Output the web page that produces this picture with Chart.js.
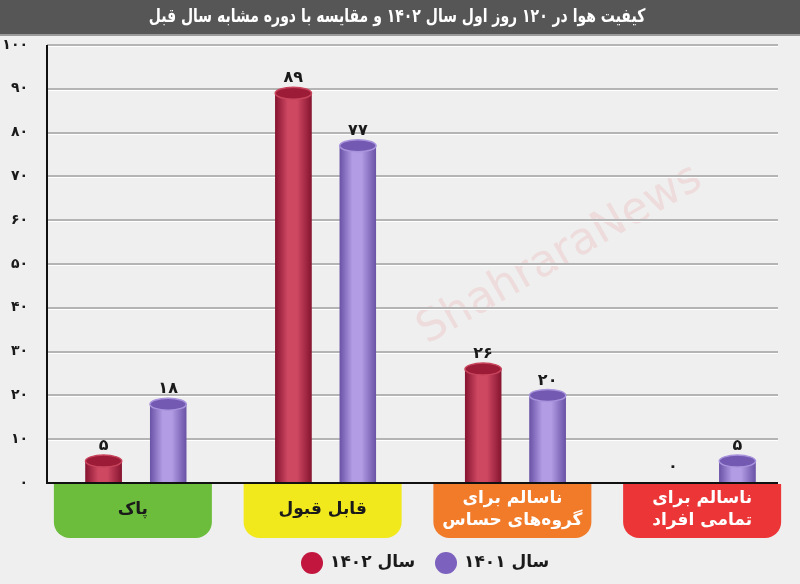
<!DOCTYPE html>
<html>
<head>
<meta charset="utf-8">
<script src="https://cdn.jsdelivr.net/npm/chart.js@4.4.0/dist/chart.umd.min.js"></script>
<style>
html,body{margin:0;padding:0;background:#efefef;}
#wrap{width:800px;height:584px;position:relative;}
</style>
</head>
<body>
<div id="wrap"><canvas id="c" width="800" height="584"></canvas></div>
<script>
const titleText = 'کیفیت هوا در ۱۲۰ روز اول سال ۱۴۰۲ و مقایسه با دوره مشابه سال قبل';
const categories = ['پاک', 'قابل قبول', 'ناسالم برای\nگروه‌های حساس', 'ناسالم برای\nتمامی افراد'];
const categoryColors = ['#6cbd3c', '#f1e91c', '#f17b29', '#ec3537'];
const categoryTextColors = ['#1a1a1a', '#1a1a1a', '#ffffff', '#ffffff'];
const seriesNames = ['سال ۱۴۰۲', 'سال ۱۴۰۱'];
const values1402 = [5, 89, 26, 0];
const values1401 = [18, 77, 20, 5];
const yTicks = [0, 10, 20, 30, 40, 50, 60, 70, 80, 90, 100];

const FONT = '"DejaVu Sans", sans-serif';
const fa = v => String(v).replace(/\d/g, d => '۰۱۲۳۴۵۶۷۸۹'[d]);
const GRID_END = 778;
const AXIS_X = 47;

const palette = [
  {edge:'#861430', mid:'#cf4862', cap:'#9c1c37', rim:'#c8445c', legend:'#c3163f'},
  {edge:'#6a52a6', mid:'#b29ce4', cap:'#7359b2', rim:'#a893dc', legend:'#7c62be'}
];

const decor = {
  id: 'decor',
  beforeDraw(chart) {
    const ctx = chart.ctx;
    ctx.save();
    ctx.fillStyle = '#efefef';
    ctx.fillRect(0, 0, chart.width, chart.height);
    ctx.fillStyle = '#565656';
    ctx.fillRect(0, 0, chart.width, 34);
    ctx.fillStyle = '#9a9a9a';
    ctx.fillRect(0, 34, chart.width, 2);
    ctx.save();
    ctx.fillStyle = '#ffffff';
    ctx.font = 'bold 14px ' + FONT;
    ctx.textAlign = 'center';
    ctx.textBaseline = 'middle';
    ctx.direction = 'rtl';
    ctx.translate(397, 17);
    ctx.scale(1, 1.35);
    ctx.fillText(titleText, 0, 0);
    ctx.restore();
    // watermark
    ctx.translate(560, 255);
    ctx.rotate(-0.52);
    ctx.fillStyle = 'rgba(235,150,150,0.22)';
    ctx.font = '44px ' + FONT;
    ctx.textAlign = 'center';
    ctx.textBaseline = 'middle';
    ctx.fillText('ShahraraNews', 0, 0);
    ctx.restore();
  },
  beforeDatasetsDraw(chart) {
    const ctx = chart.ctx;
    const ys = chart.scales.y;
    ctx.save();
    ys.ticks.forEach(t => {
      if (t.value === 0) return;
      const y = Math.round(ys.getPixelForValue(t.value));
      ctx.fillStyle = '#b4b4b4';
      ctx.fillRect(AXIS_X, y - 1, GRID_END - AXIS_X, 2);
      ctx.fillStyle = '#ffffff';
      ctx.fillRect(AXIS_X, y + 1, GRID_END - AXIS_X, 1);
    });
    ctx.restore();
  },
  afterDatasetsDraw(chart) {
    const ctx = chart.ctx;
    const area = chart.chartArea;
    chart.data.datasets.forEach((ds, di) => {
      const meta = chart.getDatasetMeta(di);
      const p = palette[di];
      meta.data.forEach((bar, i) => {
        const v = ds.data[i];
        const w = bar.width;
        const x0 = bar.x - w / 2, x1 = bar.x + w / 2;
        const top = bar.y, base = bar.base;
        const ry = 6;
        ctx.save();
        if (v > 0) {
          const g = ctx.createLinearGradient(x0, 0, x1, 0);
          g.addColorStop(0, p.edge);
          g.addColorStop(0.35, p.mid);
          g.addColorStop(0.6, p.mid);
          g.addColorStop(1, p.edge);
          ctx.beginPath();
          ctx.rect(x0, top, w, base - top);
          ctx.fillStyle = g;
          ctx.fill();
          ctx.beginPath();
          ctx.ellipse(bar.x, top, w / 2, ry, 0, 0, Math.PI * 2);
          ctx.fillStyle = p.cap;
          ctx.fill();
          ctx.lineWidth = 1.5;
          ctx.strokeStyle = p.rim;
          ctx.stroke();
        }
        ctx.fillStyle = '#1a1a1a';
        ctx.font = 'bold 16px ' + FONT;
        ctx.textAlign = 'center';
        ctx.textBaseline = 'bottom';
        const ly = v > 0 ? top - ry - 1 : top - 8;
        ctx.fillText(fa(v), bar.x, ly);
        ctx.restore();
      });
    });
    // axes lines
    ctx.save();
    ctx.fillStyle = '#111';
    ctx.fillRect(AXIS_X - 1, area.top, 2, area.bottom - area.top + 1);
    ctx.fillRect(AXIS_X - 1, area.bottom - 1, GRID_END - AXIS_X + 1, 2);
    ctx.restore();
  },
  afterDraw(chart) {
    const ctx = chart.ctx;
    const xs = chart.scales.x;
    const area = chart.chartArea;
    ctx.save();
    categories.forEach((lab, i) => {
      const cx = xs.getPixelForValue(i) - 3;
      const bw = 158, top = area.bottom + 1, h = 54, r = 16;
      const x0 = cx - bw / 2;
      ctx.beginPath();
      ctx.roundRect(x0, top, bw, h, [0, 0, r, r]);
      ctx.fillStyle = categoryColors[i];
      ctx.fill();
      ctx.fillStyle = categoryTextColors[i];
      ctx.font = 'bold 17px ' + FONT;
      ctx.textAlign = 'center';
      ctx.textBaseline = 'middle';
      ctx.direction = 'rtl';
      const lines = lab.split('\n');
      const lh = 22;
      const cy = top + h / 2 - 1;
      lines.forEach((ln, k) => {
        ctx.fillText(ln, cx, cy + (k - (lines.length - 1) / 2) * lh);
      });
    });
    // legend
    const items = [{x: 312, i: 0}, {x: 446, i: 1}];
    items.forEach(it => {
      ctx.beginPath();
      ctx.arc(it.x, 563, 11, 0, Math.PI * 2);
      ctx.fillStyle = palette[it.i].legend;
      ctx.fill();
      ctx.fillStyle = '#1a1a1a';
      ctx.font = 'bold 17px ' + FONT;
      ctx.textBaseline = 'middle';
      ctx.direction = 'rtl';
      ctx.textAlign = 'right';
      const tw = ctx.measureText(chart.data.datasets[it.i].label).width;
      ctx.fillText(chart.data.datasets[it.i].label, it.x + 18 + tw, 563);
    });
    ctx.restore();
  }
};

new Chart(document.getElementById('c'), {
  type: 'bar',
  data: {
    labels: categories,
    datasets: [
      {label: seriesNames[0], data: values1402, backgroundColor: palette[0].edge},
      {label: seriesNames[1], data: values1401, backgroundColor: palette[1].edge}
    ]
  },
  options: {
    responsive: false,
    animation: false,
    devicePixelRatio: 1,
    categoryPercentage: 0.68,
    barPercentage: 0.5625,
    layout: {padding: {top: 45, bottom: 101, right: 0, left: 0}},
    plugins: {legend: {display: false}, tooltip: {enabled: false}},
    scales: {
      x: {
        grid: {display: false},
        ticks: {display: false},
        border: {display: false},
        afterFit(s) { s.height = 0; }
      },
      y: {
        min: 0, max: 100,
        afterBuildTicks(s) { s.ticks = yTicks.map(v => ({value: v})); },
        ticks: {
          callback: v => fa(v),
          color: '#1a1a1a',
          font: {family: FONT, size: 14, weight: 'bold'},
          padding: 5
        },
        grid: {display: false},
        border: {display: false},
        afterFit(s) { s.width = 41; }
      }
    }
  },
  plugins: [decor]
});
</script>
</body>
</html>
